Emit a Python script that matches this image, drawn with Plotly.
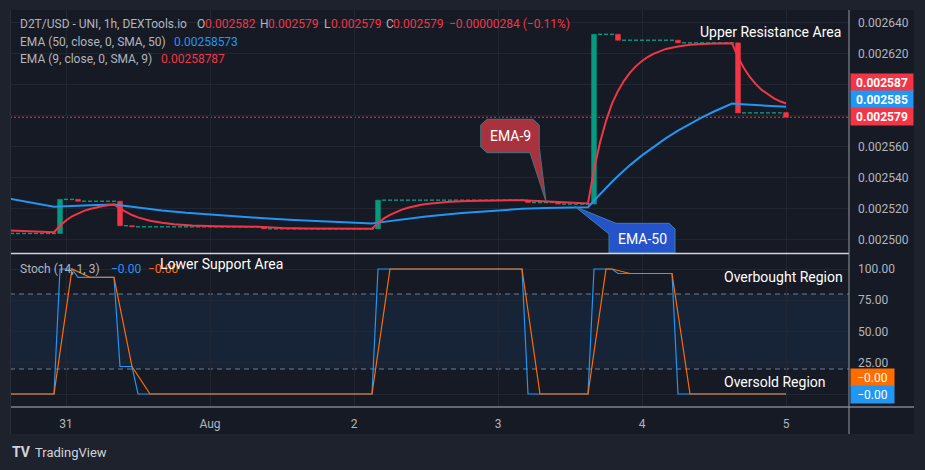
import plotly.graph_objects as go

# ------------------------------------------------------------------ data
tick_hours = [0, 24, 48, 72, 96, 120]          # hours after 31 Jul 00:00
tick_labels = ["31", "Aug", "2", "3", "4", "5"]

candle_hours = list(range(-9, 121))
first_open = 0.002504
closes = [
    # h -9 .. -2
    0.002504, 0.002504, 0.002504, 0.002504, 0.002504, 0.002504, 0.002504, 0.002504,
    # h -1 .. 8
    0.002526, 0.002526, 0.002526, 0.0025248, 0.0025248, 0.0025248, 0.0025248, 0.0025248, 0.0025248, 0.0025248,
    # h 9 .. 18
    0.002509, 0.002509, 0.0025083, 0.0025083, 0.0025083, 0.0025083, 0.0025083, 0.0025083, 0.0025083, 0.0025083,
    # h 19 .. 32
    0.0025083, 0.0025083, 0.0025083, 0.0025083, 0.0025083, 0.0025083, 0.0025083,
    0.0025083, 0.0025083, 0.0025083, 0.0025083, 0.0025083, 0.0025083, 0.0025083,
    # h 33 .. 51
    0.002507, 0.002507, 0.002507, 0.002507, 0.002507, 0.002507, 0.002507, 0.002507, 0.002507, 0.002507,
    0.002507, 0.002507, 0.002507, 0.002507, 0.002507, 0.002507, 0.002507, 0.002507, 0.002507,
    # h 52 .. 76
    0.0025255, 0.0025255, 0.0025255, 0.0025255, 0.0025255, 0.0025255, 0.0025255, 0.0025255, 0.0025255, 0.0025255,
    0.0025255, 0.0025255, 0.0025255, 0.0025255, 0.0025255, 0.0025255, 0.0025255, 0.0025255, 0.0025255, 0.0025255,
    0.0025255, 0.0025255, 0.0025255, 0.0025255, 0.0025255,
    # h 77 .. 81
    0.002524, 0.002524, 0.002524, 0.002524, 0.002524,
    # h 82 .. 87
    0.002523, 0.002523, 0.002523, 0.002523, 0.002523, 0.002523,
    # h 88 .. 91
    0.0026325, 0.0026325, 0.0026325, 0.0026325,
    # h 92 .. 101
    0.0026287, 0.0026287, 0.0026287, 0.0026287, 0.0026287, 0.0026287, 0.0026287, 0.0026287, 0.0026287, 0.0026287,
    # h 102 .. 111
    0.002627, 0.002627, 0.002627, 0.002627, 0.002627, 0.002627, 0.002627, 0.002627, 0.002627, 0.002627,
    # h 112 .. 119
    0.0025818, 0.0025818, 0.0025818, 0.0025818, 0.0025818, 0.0025818, 0.0025818, 0.0025818,
    # h 120
    0.002579,
]
assert len(closes) == len(candle_hours)

ema50_hours = [-10, -6, -2, -1, 0, 4, 8, 9, 12, 16, 20, 24, 28, 33, 38, 44, 51, 52, 56, 60, 66, 72, 76,
               80, 87, 88, 89, 90, 91, 92, 93, 94, 96, 98, 100, 102, 104, 106, 108, 110, 111, 112,
               114, 116, 118, 120]
ema50_vals = [0.0025269, 0.0025240, 0.0025212, 0.0025214, 0.0025216, 0.0025222, 0.0025227, 0.0025222,
              0.0025207, 0.0025188, 0.0025173, 0.0025161, 0.0025150, 0.0025138, 0.0025127, 0.0025115,
              0.0025104, 0.0025110, 0.0025131, 0.0025149, 0.0025172, 0.0025190, 0.0025199, 0.0025205,
              0.0025209, 0.0025252, 0.0025294, 0.0025335, 0.0025374, 0.0025411, 0.0025447, 0.0025481,
              0.0025544, 0.0025602, 0.0025655, 0.0025703, 0.0025748, 0.0025789, 0.0025827, 0.0025862,
              0.0025878, 0.0025876, 0.0025871, 0.0025867, 0.0025863, 0.0025857]
assert len(ema50_hours) == len(ema50_vals)

ema9_hours = [-10, -5, -2, -1, 0, 1, 2, 3, 4, 5, 6, 7, 8, 9, 10, 11, 12, 13, 14, 16, 18, 21, 25, 32, 33,
              36, 40, 51, 52, 53, 54, 55, 56, 57, 58, 59, 60, 62, 64, 67, 72, 76, 77, 78, 80, 81, 82,
              84, 87, 88, 89, 90, 91, 92, 93, 94, 95, 96, 97, 98, 100, 102, 104, 107, 111, 112, 113,
              114, 115, 116, 117, 118, 119, 120]
ema9_vals = [0.0025060, 0.0025052, 0.0025048, 0.0025090, 0.0025124, 0.0025151, 0.0025171, 0.0025186,
             0.0025198, 0.0025208, 0.0025216, 0.0025222, 0.0025227, 0.0025200, 0.0025178, 0.0025159,
             0.0025144, 0.0025132, 0.0025122, 0.0025109, 0.0025100, 0.0025092, 0.0025087, 0.0025084,
             0.0025081, 0.0025075, 0.0025072, 0.0025070, 0.0025107, 0.0025137, 0.0025160, 0.0025179,
             0.0025194, 0.0025206, 0.0025216, 0.0025224, 0.0025230, 0.0025239, 0.0025245, 0.0025250,
             0.0025254, 0.0025255, 0.0025252, 0.0025250, 0.0025246, 0.0025245, 0.0025242, 0.0025237,
             0.0025234, 0.0025452, 0.0025627, 0.0025766, 0.0025878, 0.0025960, 0.0026025, 0.0026078,
             0.0026120, 0.0026153, 0.0026180, 0.0026201, 0.0026231, 0.0026247, 0.0026257, 0.0026264,
             0.0026268, 0.0026178, 0.0026106, 0.0026048, 0.0026002, 0.0025965, 0.0025936, 0.0025912,
             0.0025893, 0.0025879]
assert len(ema9_hours) == len(ema9_vals)

stoch_k_hours = [-10, -2, -1, 1, 2, 8, 9, 11, 12, 51, 52, 76, 77, 87, 88, 91, 92, 101, 102, 120]
stoch_k_vals = [0, 0, 100, 100, 93.3, 93.3, 22, 22, 0, 0, 100, 100, 0, 0, 100, 100, 96.4, 96.4, 0, 0]
stoch_d_hours = [-10, -2, 1, 2, 4, 8, 11, 14, 51, 54, 76, 79, 87, 90, 91, 94, 101, 104, 120]
stoch_d_vals = [0, 0, 100, 97.8, 93.3, 93.3, 22, 0, 0, 100, 100, 0, 0, 100, 100, 96.4, 96.4, 0, 0]

price_ticks = [0.00250, 0.00252, 0.00254, 0.00256, 0.00258, 0.00260, 0.00262, 0.00264]
price_tick_show = [0.00250, 0.00252, 0.00254, 0.00256, 0.00262, 0.00264]
stoch_ticks = [0, 25, 50, 75, 100]
stoch_band = [20, 80]

header_symbol = "D2T/USD - UNI, 1h, DEXTools.io"
header_ohlc = ["0.002582", "0.002579", "0.002579", "0.002579"]
header_change = "\u22120.00000284 (\u22120.11%)"
ema50_label = "EMA (50, close, 0, SMA, 50)"
ema50_last = "0.00258573"
ema9_label = "EMA (9, close, 0, SMA, 9)"
ema9_last = "0.00258787"
stoch_label = "Stoch (14, 1, 3)"
stoch_last = ["\u22120.00", "\u22120.00"]
axis_price_labels = ["0.002587", "0.002585", "0.002579"]

# ------------------------------------------------------------------ style
BG = "#161a25"
FRAME = "#1e222d"
GRID = "#222631"
TXT = "#b2b5be"
GREEN = "#089981"
RED = "#f23645"
BLUE = "#2196f3"
ORANGE = "#ff6d00"
FONT = "Roboto, 'Noto Sans', sans-serif"

W, H = 925, 470
PL, PR, PT, PB = 10, 849, 10, 407


def px(x):
    return (x - PL) / (PR - PL)


def py(y):
    return (PB - y) / (PB - PT)


price_dom = [py(253), 1.0]
stoch_dom = [0.0, py(254)]

# ------------------------------------------------------------------ candles
opens = [first_open] + closes[:-1]
opens[-1] = float(header_ohlc[0])
up_x, up_b, up_h, dn_x, dn_b, dn_h, fl_x, fl_y = [], [], [], [], [], [], [], []
for h, o, c in zip(candle_hours, opens, closes):
    if c > o:
        up_x.append(h); up_b.append(o); up_h.append(c - o)
    elif c < o:
        dn_x.append(h); dn_b.append(c); dn_h.append(o - c)
    else:
        fl_x.append(h); fl_y.append(c)

fig = go.Figure()
fig.add_trace(go.Scatter(x=fl_x, y=fl_y, mode="markers", xaxis="x", yaxis="y",
                         marker=dict(symbol="line-ew", size=2.9, color=GREEN,
                                     line=dict(color=GREEN, width=1.4))))
fig.add_trace(go.Bar(x=up_x, y=up_h, base=up_b, width=0.8, xaxis="x", yaxis="y",
                     marker=dict(color=GREEN, line=dict(color=GREEN, width=0.6))))
fig.add_trace(go.Bar(x=dn_x, y=dn_h, base=dn_b, width=0.8, xaxis="x", yaxis="y",
                     marker=dict(color=RED, line=dict(color=RED, width=0.6))))
fig.add_trace(go.Scatter(x=ema50_hours, y=ema50_vals, mode="lines", xaxis="x", yaxis="y",
                         line=dict(color=BLUE, width=2)))
fig.add_trace(go.Scatter(x=ema9_hours, y=ema9_vals, mode="lines", xaxis="x", yaxis="y",
                         line=dict(color=RED, width=2)))
fig.add_trace(go.Scatter(x=stoch_k_hours, y=stoch_k_vals, mode="lines", xaxis="x", yaxis="y2",
                         line=dict(color=BLUE, width=1.2)))
fig.add_trace(go.Scatter(x=stoch_d_hours, y=stoch_d_vals, mode="lines", xaxis="x", yaxis="y2",
                         line=dict(color=ORANGE, width=1.2)))

# ------------------------------------------------------------------ shapes
shapes = []
# chart panel background (incl. price & time scales)
shapes.append(dict(type="rect", xref="paper", yref="paper", x0=px(10), x1=px(914), y0=py(434), y1=py(10),
                   fillcolor=BG, line=dict(width=0), layer="below"))
# stoch band
shapes.append(dict(type="rect", xref="paper", yref="y2", x0=0, x1=1, y0=stoch_band[0], y1=stoch_band[1],
                   fillcolor="rgba(33,110,200,0.11)", line=dict(width=0), layer="between"))
for lv in stoch_band:
    shapes.append(dict(type="line", xref="paper", yref="y2", x0=0, x1=1, y0=lv, y1=lv,
                       line=dict(color="#787b86", width=1, dash="5px,4px"), layer="between"))
# last price line
shapes.append(dict(type="line", xref="paper", yref="y", x0=0, x1=1, y0=closes[-1], y1=closes[-1],
                   line=dict(color=RED, width=1, dash="2px,2px"), layer="between"))


def path(points):
    return "M " + " L ".join(f"{px(a):.5f},{py(b):.5f}" for a, b in points) + " Z"


# EMA-9 callout
shapes.append(dict(type="path", xref="paper", yref="paper",
                   path=path([(487, 119.3), (533, 119.3), (539.3, 125), (539.3, 147), (546, 201.7),
                              (530, 152.7), (487, 152.7), (480.7, 147), (480.7, 125)]),
                   fillcolor="#a9323f", line=dict(color="#3f7482", width=1), layer="above"))
# EMA-50 callout
shapes.append(dict(type="path", xref="paper", yref="paper",
                   path=path([(616, 223.3), (669, 223.3), (675, 229), (675, 253), (609, 253),
                              (609, 234), (575, 206.7)]),
                   fillcolor="#2553c9", line=dict(color="#3b7fa5", width=1), layer="above"))
# separators
shapes.append(dict(type="line", xref="paper", yref="paper", x0=0, x1=1, y0=py(253.5), y1=py(253.5),
                   line=dict(color="#d1d4dc", width=1.5), layer="above"))
shapes.append(dict(type="line", xref="paper", yref="paper", x0=0, x1=px(914), y0=py(407), y1=py(407),
                   line=dict(color="#b2b5be", width=1), layer="above"))
shapes.append(dict(type="line", xref="paper", yref="paper", x0=1, x1=1, y0=py(434), y1=py(10),
                   line=dict(color="#9598a1", width=1), layer="above"))
shapes.append(dict(type="line", xref="paper", yref="paper", x0=px(10.5), x1=px(10.5), y0=py(434), y1=py(10),
                   line=dict(color="#2a2e39", width=1), layer="above"))

# ------------------------------------------------------------------ annotations
ann = []


def text(x, y, s, color=TXT, size=12, anchor="left", **kw):
    ann.append(dict(xref="paper", yref="paper", x=px(x), y=py(y), text=s, showarrow=False,
                    xanchor=anchor, yanchor="middle", font=dict(family=FONT, size=size, color=color), **kw))


# header lines
text(18, 24, header_symbol)
for lx, vx, letter, val in zip([195, 258, 322, 384], [203, 266, 329, 391], "OHLC", header_ohlc):
    text(lx, 24, letter)
    text(vx, 24, val, RED)
text(447, 24, header_change, RED)
text(18, 42, ema50_label)
text(172, 42, ema50_last, BLUE)
text(18, 59, ema9_label)
text(159, 59, ema9_last, RED)
text(18, 269, stoch_label)
text(109, 269, stoch_last[0], BLUE)
text(146, 269, stoch_last[1], ORANGE)

# region notes
text(698, 32, "Upper Resistance Area", "#ffffff", 14)
text(158, 264, "Lower Support Area", "#ffffff", 14)
text(722, 277, "Overbought Region", "#ffffff", 14)
text(722, 382, "Oversold Region", "#ffffff", 14)
text(510, 136, "EMA-9", "#ffffff", 14, anchor="center")
text(642, 239, "EMA-50", "#ffffff", 14, anchor="center")

# scale labels
for yc, s, c in zip([82.3, 99.7, 116.5], axis_price_labels, [RED, BLUE, RED]):
    text(849.5, yc, "<b>" + s + "</b>", "#ffffff", 12, width=60, height=15, bgcolor=c, borderpad=1)
for yc, s, c in zip([377.3, 394.3], stoch_last[::-1], [ORANGE, BLUE]):
    text(849.5, yc, s, "#ffffff", 12, width=41, height=15, bgcolor=c, borderpad=1)

# footer logo
text(10, 452, "<b>TV</b>", "#d1d4dc", 14)
text(33, 452, "TradingView", "#d1d4dc", 13)

fig.update_layout(
    width=W, height=H,
    margin=dict(l=PL, r=W - PR, t=PT, b=H - PB, pad=0),
    paper_bgcolor=FRAME, plot_bgcolor=BG,
    showlegend=False, barmode="overlay", hovermode=False,
    shapes=shapes, annotations=ann,
    xaxis=dict(range=[(PL - 66) / 6, (PR - 66) / 6], tickvals=tick_hours, ticktext=tick_labels,
               showgrid=True, gridcolor=GRID, gridwidth=1, zeroline=False, showline=False,
               anchor="y2", ticks="", ticklabelstandoff=8,
               tickfont=dict(family=FONT, size=12, color=TXT)),
    yaxis=dict(domain=price_dom, range=[0.0024914, 0.0026482], side="right", anchor="x",
               tickvals=price_ticks,
               ticktext=[f"{v:.6f}" if v in price_tick_show else "" for v in price_ticks],
               showgrid=True, gridcolor=GRID, zeroline=False, showline=False, ticks="",
               ticklabelstandoff=8, tickfont=dict(family=FONT, size=12, color=TXT)),
    yaxis2=dict(domain=stoch_dom, range=[-10.4, 112], side="right", anchor="x",
                tickvals=stoch_ticks, ticktext=["" if v == 0 else f"{v:.2f}" for v in stoch_ticks],
                showgrid=True, gridcolor=GRID, zeroline=False, showline=False, ticks="",
                ticklabelstandoff=8, tickfont=dict(family=FONT, size=12, color=TXT)),
)

fig.write_html("out.html", config={"displayModeBar": False})
